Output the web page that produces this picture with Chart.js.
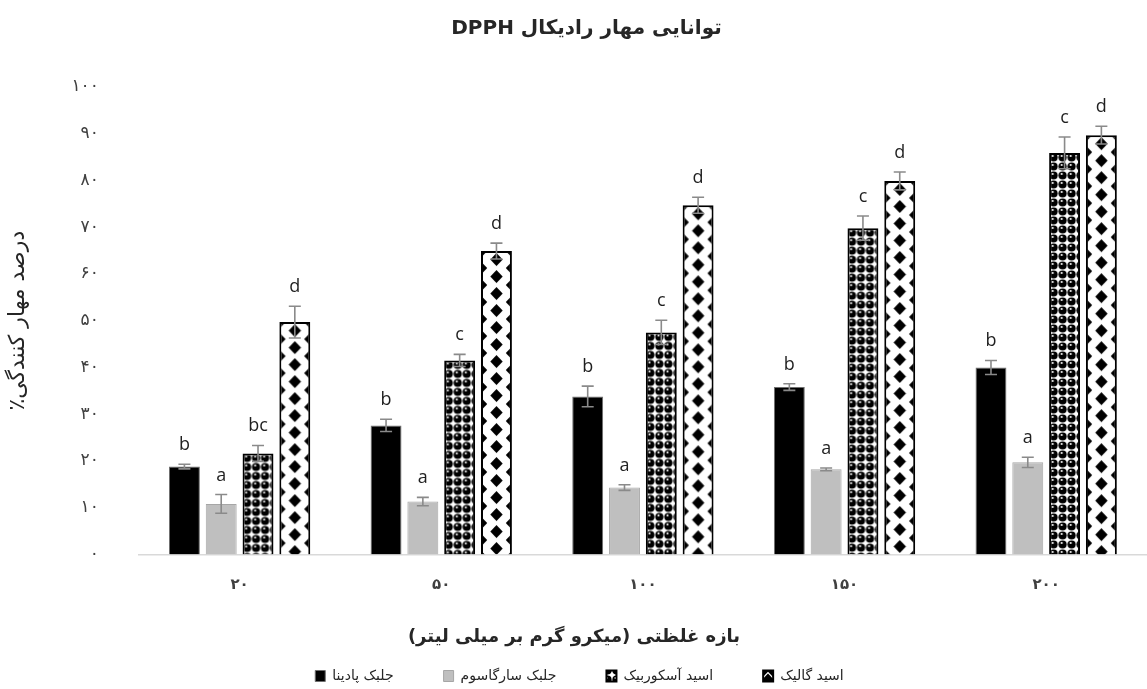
<!DOCTYPE html>
<html><head><meta charset="utf-8">
<script src="https://cdn.jsdelivr.net/npm/chart.js@4.4.1/dist/chart.umd.min.js"></script>
<style>html,body{margin:0;padding:0;background:#fff;} #wrap{width:1147px;height:689px;position:relative;}</style>
</head><body><div id="wrap"><canvas id="c" dir="rtl"></canvas></div>
<script>
const titleText = 'توانایی مهار رادیکال DPPH';
const xTitle = 'بازه غلظتی (میکرو گرم بر میلی لیتر)';
const yTitle = 'درصد مهار کنندگی٪';
const categories = ['۲۰','۵۰','۱۰۰','۱۵۰','۲۰۰'];
const yTickLabels = ['۰','۱۰','۲۰','۳۰','۴۰','۵۰','۶۰','۷۰','۸۰','۹۰','۱۰۰'];
const seriesNames = ['جلبک پادینا','جلبک سارگاسوم','اسید آسکوربیک','اسید گالیک'];

const padina     = [18.8, 27.6, 33.8, 35.8, 40.0];
const padinaErr  = [0.5, 1.3, 2.2, 0.7, 1.5];
const sargassum  = [10.8, 11.3, 14.3, 18.2, 19.7];
const sargErr    = [2.0, 0.9, 0.6, 0.3, 1.1];
const ascorbic   = [21.6, 41.5, 47.5, 69.8, 85.9];
const ascErr     = [1.7, 1.3, 2.6, 2.6, 3.4];
const gallic     = [49.7, 64.9, 74.7, 79.9, 89.7];
const gallicErr  = [3.4, 1.7, 1.7, 1.9, 1.9];

const padinaLetters = ['b','b','b','b','b'];
const sargLetters   = ['a','a','a','a','a'];
const ascLetters    = ['bc','c','c','c','c'];
const gallicLetters = ['d','d','d','d','d'];

function ascTile(){
  const s=9;
  const c=document.createElement('canvas'); c.width=s; c.height=s;
  const g=c.getContext('2d');
  g.fillStyle='#fff'; g.fillRect(0,0,s,s);
  g.fillStyle='#000'; g.beginPath(); g.arc(s/2,s/2,4.1,0,Math.PI*2); g.fill();
  g.fillStyle='#fff'; g.beginPath(); g.arc(3.6,3.0,1.1,0,Math.PI*2); g.fill();
  return c;
}
function gallicTile(w){
  w=Math.max(6,Math.round(w));
  const h=17;
  const c=document.createElement('canvas'); c.width=w; c.height=h;
  const g=c.getContext('2d');
  g.fillStyle='#fff'; g.fillRect(0,0,w,h);
  g.fillStyle='#000';
  const dia=(cx,cy)=>{g.beginPath();g.moveTo(cx,cy-6.5);g.lineTo(cx+6.2,cy);g.lineTo(cx,cy+6.5);g.lineTo(cx-6.2,cy);g.closePath();g.fill();};
  dia(w/2,h/2); dia(0,0); dia(w,0); dia(0,h); dia(w,h);
  return c;
}
const ctx=document.getElementById('c').getContext('2d');
const ascPatternBase = ctx.createPattern(ascTile(),'repeat');
const galPatternBase = ctx.createPattern(gallicTile(12),'repeat');

const patternAlign = {
  id:'patternAlign',
  beforeDatasetsDraw(chart){
    [2,3].forEach(di=>{
      const meta=chart.getDatasetMeta(di);
      meta.data.forEach(el=>{
        const left=el.x-el.width/2, top=el.y;
        const tile = di===2 ? ascTile() : gallicTile(el.width);
        const p=chart.ctx.createPattern(tile,'repeat');
        p.setTransform(new DOMMatrix([1,0,0,1,left,top]));
        el.options=Object.assign({},el.options,{backgroundColor:p});
      });
    });
  }
};

const errors=[padinaErr,sargErr,ascErr,gallicErr];
const letters=[padinaLetters,sargLetters,ascLetters,gallicLetters];
const errorBars = {
  id:'errorBars',
  afterDatasetsDraw(chart){
    const c=chart.ctx, ys=chart.scales.y;
    chart.data.datasets.forEach((ds,di)=>{
      const meta=chart.getDatasetMeta(di);
      meta.data.forEach((el,i)=>{
        const v=ds.data[i], e=errors[di][i];
        const yt=ys.getPixelForValue(v+e), yb=ys.getPixelForValue(v-e);
        c.save();
        c.strokeStyle='#8a8a8a'; c.lineWidth=1.6;
        c.beginPath();
        c.moveTo(el.x,yt); c.lineTo(el.x,yb);
        c.moveTo(el.x-6,yt); c.lineTo(el.x+6,yt);
        c.moveTo(el.x-6,yb); c.lineTo(el.x+6,yb);
        c.stroke();
        c.fillStyle='#1f1f1f';
        c.font='18px "Open Sans", "Noto Sans", sans-serif';
        c.textAlign='center'; c.textBaseline='alphabetic';
        c.direction='ltr';
        c.fillText(letters[di][i], el.x, yt-14);
        c.restore();
      });
    });
  }
};

const sp=n=>'\u00A0'.repeat(n);

new Chart(ctx,{
  type:'bar',
  data:{
    labels:categories,
    datasets:[
      {label:seriesNames[0],data:padina,backgroundColor:'#000',borderColor:'#6e6e6e',borderWidth:1},
      {label:seriesNames[1],data:sargassum,backgroundColor:'#bfbfbf',borderColor:'#a6a6a6',borderWidth:1},
      {label:seriesNames[2],data:ascorbic,backgroundColor:ascPatternBase,borderColor:'#000',borderWidth:2},
      {label:seriesNames[3],data:gallic,backgroundColor:galPatternBase,borderColor:'#000',borderWidth:2}
    ]
  },
  options:{
    responsive:true, maintainAspectRatio:false, animation:false,
    categoryPercentage:0.73, barPercentage:0.84,
    layout:{padding:{left:0,right:-12,top:0,bottom:-4}},
    plugins:{
      title:{display:true,text:titleText+sp(2),font:{family:'DejaVu Sans',size:20,weight:'bold'},color:'#262626',padding:{top:17,bottom:46}},
      legend:{position:'bottom',
        labels:{boxWidth:10,boxHeight:11,padding:10,font:{family:'DejaVu Sans',size:14},color:'#262626',
          generateLabels(chart){
            const items=Chart.defaults.plugins.legend.labels.generateLabels(chart);
            items.forEach((it,k)=>{ if(k<items.length-1) it.text=sp(9)+it.text; });
            return items;
          }}},
      tooltip:{enabled:false}
    },
    scales:{
      x:{grid:{display:false,drawTicks:false},border:{display:true,color:'#d9d9d9',width:1.5},
         ticks:{padding:22,font:{family:'DejaVu Sans',size:15,weight:'bold'},color:'#404040'},
         title:{display:true,text:sp(22)+xTitle,font:{family:'DejaVu Sans',size:18,weight:'bold'},color:'#262626',padding:{top:10,bottom:11}}},
      y:{min:0,max:100,
         ticks:{stepSize:10,padding:40,callback:(v,i)=>yTickLabels[i],font:{family:'DejaVu Sans',size:17},color:'#404040'},
         grid:{display:false,drawTicks:false},border:{display:false},
         title:{display:true,text:yTitle,font:{family:'DejaVu Sans',size:22},color:'#262626',padding:{top:5,bottom:0}}}
    }
  },
  plugins:[patternAlign,errorBars]
});
</script></body></html>
